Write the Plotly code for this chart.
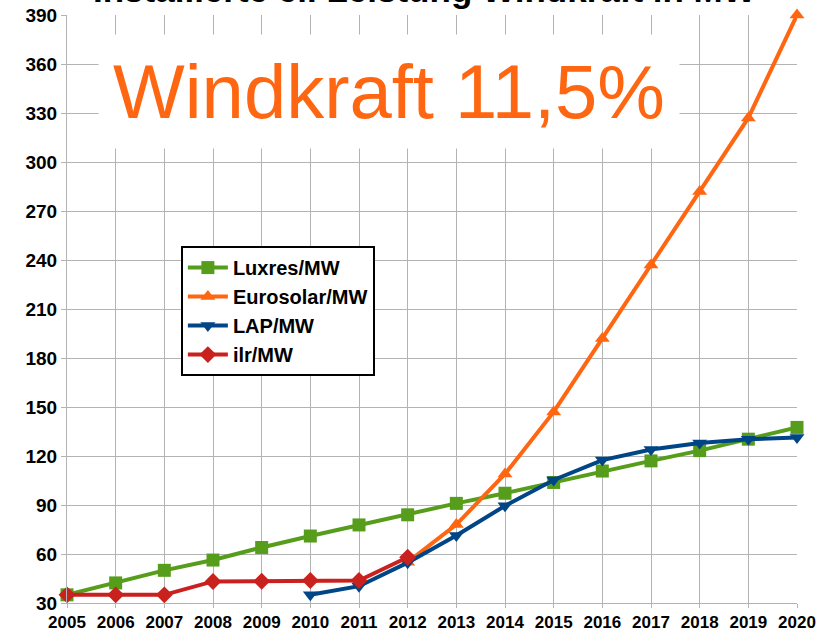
import plotly.graph_objects as go

years = list(range(2005, 2021))

luxres = [35, 42.3, 50, 56.3, 64, 71, 77.8, 84, 91, 97.2, 103.8, 110.8, 117, 123.3, 130.3, 137.5]
eurosolar_years = list(range(2012, 2021))
eurosolar = [55, 78, 109, 147, 192, 237, 282, 327, 390]
lap_years = list(range(2010, 2021))
lap = [35, 40.3, 54.7, 71.3, 89.5, 105.3, 117.5, 124, 128, 130.3, 131.3]
ilr_years = list(range(2005, 2013))
ilr = [35, 35, 35, 43.2, 43.3, 43.8, 43.8, 58]

y_ticks = list(range(30, 391, 30))

GREEN = "#579d1c"
ORANGE = "#ff6611"
BLUE = "#004586"
RED = "#c9211e"

fig = go.Figure()

def add_series(x, y, name, color, symbol):
	fig.add_trace(go.Scatter(
		x = x,
		y = y,
		name = name,
		mode = "lines+markers",
		line = dict(color = color, width = 4),
		marker = dict(color = color, symbol = symbol, size = 13),
		cliponaxis = False,
	))

add_series(years, luxres, "Luxres/MW", GREEN, "square")
add_series(eurosolar_years, eurosolar, "Eurosolar/MW", ORANGE, "triangle-up")
add_series(lap_years, lap, "LAP/MW", BLUE, "triangle-down")
add_series(ilr_years, ilr, "ilr/MW", RED, "diamond")

fig.update_layout(
	width = 828,
	height = 636,
	margin = dict(l = 67, r = 31, t = 15, b = 33, autoexpand = False),
	paper_bgcolor = "white",
	plot_bgcolor = "white",
	font = dict(family = "Liberation Sans, Arial, sans-serif", color = "black"),
	showlegend = True,
	legend = dict(
		x = 0.156, y = 0.607, xanchor = "left", yanchor = "top",
		bgcolor = "white", bordercolor = "black", borderwidth = 2,
		font = dict(size = 20, family = "Liberation Sans, Arial, sans-serif", weight = "bold"),
		tracegroupgap = 0, itemwidth = 40,
	),
	annotations = [
		dict(
			text = "Installierte el. Leistung Windkraft in MW",
			xref = "paper", yref = "paper", x = (424 - 67) / 730, y = 1.044,
			xanchor = "center", yanchor = "middle", showarrow = False,
			font = dict(size = 35, weight = "bold", color = "black"),
		),
		dict(
			text = "Windkraft 11,5%",
			xref = "paper", yref = "paper",
			x = (389 - 67) / 730, y = (603 - 92) / 588,
			xanchor = "center", yanchor = "middle", showarrow = False,
			font = dict(size = 76, color = ORANGE),
			bgcolor = "white", borderpad = 14,
		),
	],
)

fig.update_xaxes(
	range = [2005, 2020],
	tickmode = "array", tickvals = years, ticktext = [str(y) for y in years],
	showgrid = True, gridcolor = "#b3b3b3", gridwidth = 1,
	showline = True, linecolor = "#b3b3b3", linewidth = 1,
	ticks = "outside", ticklen = 4, tickcolor = "#b3b3b3",
	tickfont = dict(size = 17, weight = "bold", family = "Liberation Sans Narrow, Arial Narrow, Liberation Sans, sans-serif"),
	zeroline = False, automargin = False,
)
fig.update_yaxes(
	range = [30, 390],
	tickmode = "array", tickvals = y_ticks,
	showgrid = True, gridcolor = "#b3b3b3", gridwidth = 1,
	showline = True, linecolor = "#b3b3b3", linewidth = 1,
	ticks = "outside", ticklen = 5, tickcolor = "#b3b3b3",
	tickfont = dict(size = 19, weight = "bold"),
	zeroline = False, automargin = False,
)

fig.write_html(
	"out.html",
	config = {"displayModeBar": False},
	post_script = "document.body.style.margin = '0';",
)
